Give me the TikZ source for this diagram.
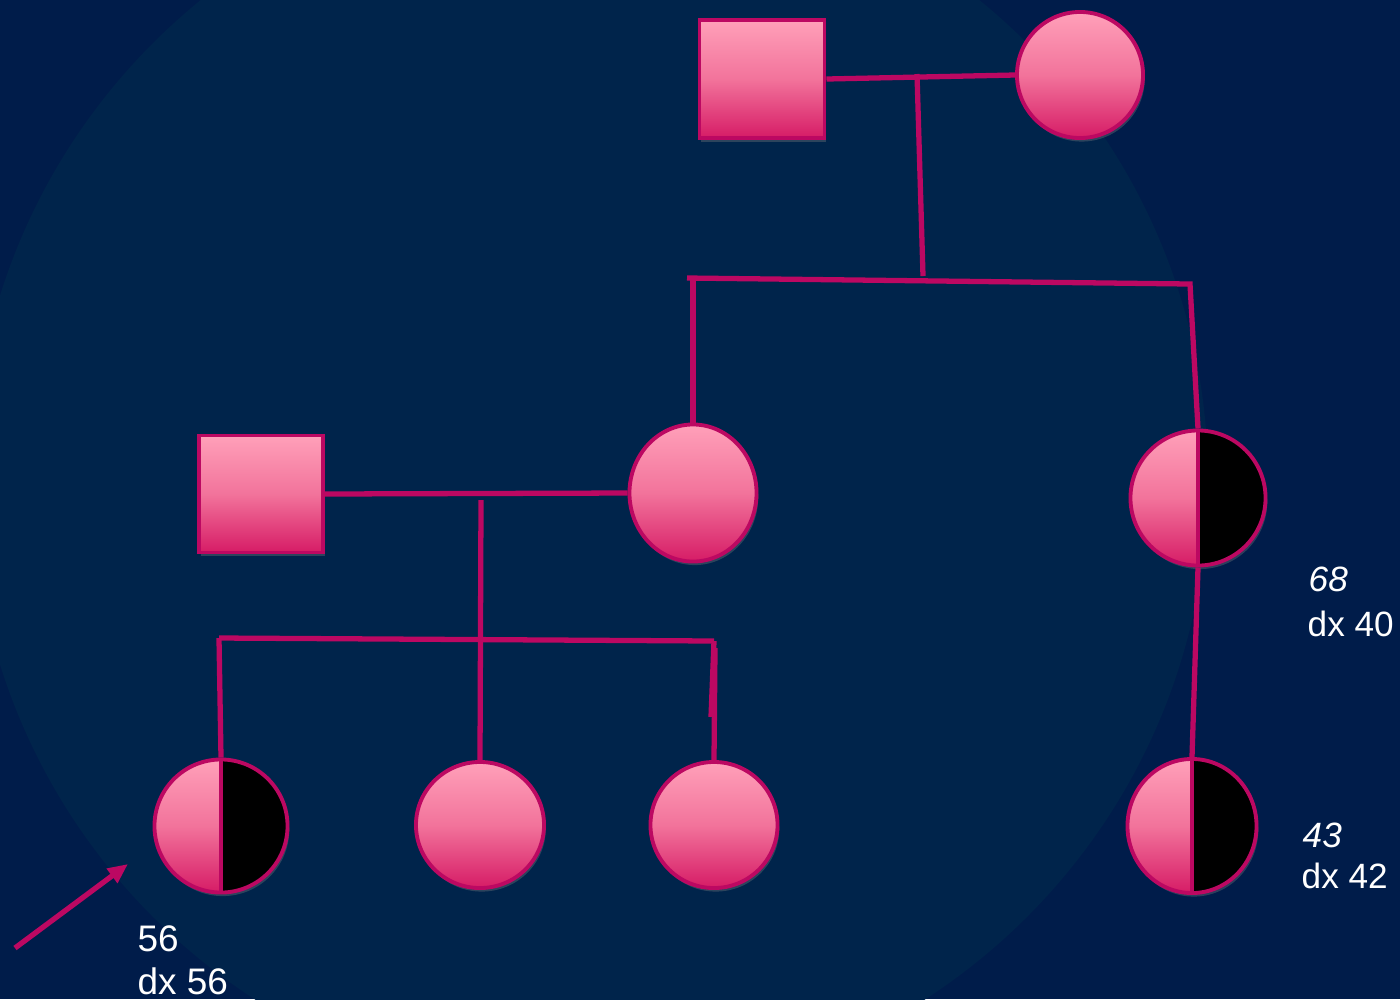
\documentclass[tikz,border=0pt]{standalone}
\usepackage{fontspec}
\setmainfont{Liberation Sans}
\usetikzlibrary{shapes.geometric,arrows.meta,shadows}
\definecolor{bgout}{RGB}{0,28,74}
\definecolor{bgin}{RGB}{0,36,75}
\definecolor{pinktop}{RGB}{255,160,185}
\definecolor{pinkmid}{RGB}{242,115,155}
\definecolor{pinkbot}{RGB}{214,28,102}
\definecolor{mag}{RGB}{188,8,98}
\begin{document}
\begin{tikzpicture}[x=0.01cm,y=-0.01cm,
 pers/.style={draw=mag, line width=1.1pt, top color=pinktop, bottom color=pinkbot, middle color=pinkmid, inner sep=0pt,
   drop shadow={opacity=0.35, shadow xshift=0.5pt, shadow yshift=-1pt}},
 male/.style={pers, rectangle},
 female/.style={pers, ellipse},
 affected/.style={female, path picture={\fill[black] (path picture bounding box.north) rectangle (path picture bounding box.south east);}},
 divider/.style={draw=mag, line width=1.1pt},
 link/.style={draw=mag, line width=1.5pt},
 lbl/.style={text=white, inner sep=0pt, anchor=base west, font=\fontsize{10.5pt}{12.5pt}\selectfont},
 rlbl/.style={lbl, font=\fontsize{10pt}{12pt}\selectfont}]
\useasboundingbox (0,0) rectangle (1400,999);
\fill[bgout] (0,0) rectangle (1400,999);
\begin{scope}
\clip (0,0) rectangle (1400,999);
\fill[bgin] (590,480) circle[radius=618];
\end{scope}
% persons
\node[male, minimum width=1.25cm, minimum height=1.18cm] (gf) at (762,79) {};
\node[female, minimum width=1.26cm, minimum height=1.26cm] (gm) at (1080,75) {};
\node[male, minimum width=1.24cm, minimum height=1.17cm] (fa) at (261,494) {};
\node[female, minimum width=1.27cm, minimum height=1.37cm] (mo) at (693,493) {};
\node[affected, minimum width=1.35cm, minimum height=1.35cm] (au) at (1198,498) {};
\node[affected, minimum width=1.33cm, minimum height=1.33cm] (pr) at (221,826) {};
\node[female, minimum width=1.28cm, minimum height=1.26cm] (s2) at (480,825) {};
\node[female, minimum width=1.27cm, minimum height=1.26cm] (s3) at (714,825) {};
\node[affected, minimum width=1.29cm, minimum height=1.34cm] (co) at (1192,826) {};
\draw[divider] (au.north) -- (au.south);
\draw[divider] (pr.north) -- (pr.south);
\draw[divider] (co.north) -- (co.south);
% junction points
\coordinate (gpm) at (917,74);
\coordinate (gpd) at (923,276);
\coordinate (sl) at (687,278);
\coordinate (sml) at (693,278);
\coordinate (sr) at (1190,284);
\coordinate (pm) at (481,500);
\coordinate (kl) at (219,638);
\coordinate (kr) at (714,641);
\coordinate (kn1) at (711,717);
\coordinate (kn2) at (715,648);
\coordinate (at) at (15,948);
\coordinate (ah) at (128,864);
% connectors
\draw[link] (gf.east) -- (gm.west);
\draw[link] (gpm) -- (gpd);
\draw[link] (sl) -- (sr) -- (au.north);
\draw[link] (sml) -- (mo.north);
\draw[link] (fa.east) -- (mo.west);
\draw[link] (pm) -- (s2.north);
\draw[link] (kl) -- (kr);
\draw[link] (kl) -- (pr.north);
\draw[link] (kr) -- (kn1);
\draw[link] (kn2) -- (s3.north);
\draw[link] (au.south) -- (co.north);
\draw[link, -{Triangle[length=0.2cm, width=0.17cm]}] (at) -- (ah);
% labels
\node[lbl] (l1a) at (137,951) {56};
\node[lbl] (l1b) at (137,994) {dx 56};
\node[rlbl, font=\fontsize{10pt}{12pt}\selectfont\itshape] (l2a) at (1308,591) {68};
\node[rlbl] (l2b) at (1307,636) {dx 40};
\node[rlbl, font=\fontsize{10pt}{12pt}\selectfont\itshape] (l3a) at (1302,847) {43};
\node[rlbl] (l3b) at (1301,888) {dx 42};
\end{tikzpicture}
\end{document}
